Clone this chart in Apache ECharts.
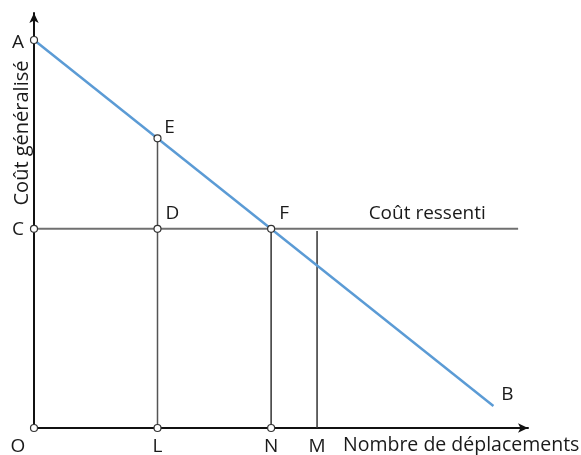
<!DOCTYPE html>
<html>
<head>
<meta charset="utf-8">
<script src="https://cdn.jsdelivr.net/npm/echarts@6/dist/echarts.min.js"></script>
<style>
  html, body { margin: 0; padding: 0; background: #fff; }
  #chart { width: 581px; height: 455px; }
</style>
</head>
<body>
<div id="chart"></div>
<script>
// points of the diagram (arbitrary units, axes 0..100)
const pointNames = ['A', 'C', 'E', 'D', 'F', 'O', 'L', 'N'];
const pointX = [0, 0, 25, 25, 48, 0, 25, 48];
const pointY = [93.5, 48, 69.8, 48, 48, 0, 0, 0];
// plain labels without a marker
const textNames = ['M', 'B', 'Coût ressenti'];
const textX = [57.3, 93, 79.6];
const textY = [0, 5.3, 48];
// demand line from A to B
const demandLine = [[0, 93.5], [93, 5.3]];
// perceived cost line
const ressentiLine = [[0, 48], [98, 48]];
// verticals at L, N, M
const verticalL = [[25, 0], [25, 69.8]];
const verticalN = [[48, 0], [48, 48]];
const verticalM = [[57.3, 0], [57.3, 47.5]];

const FONT = '"Open Sans", sans-serif';

// label offsets, relative to the point
const labelOffsets = {
    A: [-16, 3], C: [-16, 1], O: [-16, 19], L: [0, 19], N: [0, 19],
    E: [12, -11], D: [15, -15], F: [13, -15],
    M: [0, 19], B: [14, -11], 'Coût ressenti': [0, -15]
};

const pointData = pointNames.map((n, i) => ({
    name: n,
    value: [pointX[i], pointY[i]],
    label: { offset: labelOffsets[n] }
}));
const textData = textNames.map((n, i) => ({
    name: n,
    value: [textX[i], textY[i]],
    label: { offset: labelOffsets[n] }
}));

const chart = echarts.init(document.getElementById('chart'));

const greyLine = (data, color, width) => ({
    type: 'line',
    data: data,
    symbol: 'none',
    silent: true,
    lineStyle: { color: color, width: width },
    clip: false,
    z: 3
});

const labelStyle = {
    show: true, position: 'inside', formatter: '{b}',
    color: '#1a1a1a', fontFamily: FONT, fontSize: 19,
    textBorderWidth: 0
};

const option = {
    animation: false,
    grid: { left: 34, right: 53, top: 13, bottom: 27 },
    xAxis: {
        type: 'value', min: 0, max: 100,
        axisLine: { show: true, symbol: ['none', 'arrow'], symbolSize: [7, 10], lineStyle: { color: '#111', width: 2 } },
        axisTick: { show: false }, axisLabel: { show: false }, splitLine: { show: false }
    },
    yAxis: {
        type: 'value', min: 0, max: 100,
        axisLine: { show: true, symbol: ['none', 'arrow'], symbolSize: [7, 10], lineStyle: { color: '#111', width: 2 } },
        axisTick: { show: false }, axisLabel: { show: false }, splitLine: { show: false }
    },
    series: [
        greyLine(ressentiLine, '#707070', 2),
        greyLine(verticalL, '#555', 1.5),
        greyLine(verticalN, '#333', 1.5),
        greyLine(verticalM, '#333', 1.5),
        {
            type: 'line',
            data: demandLine,
            symbol: 'none',
            lineStyle: { color: '#5b9bd5', width: 2.5 },
            clip: false,
            z: 4
        },
        {
            type: 'scatter',
            data: pointData,
            symbol: 'circle',
            symbolSize: 7,
            itemStyle: { color: '#fff', borderColor: '#333', borderWidth: 1.2, opacity: 1 },
            label: labelStyle,
            clip: false,
            z: 6
        },
        {
            type: 'scatter',
            symbol: 'circle',
            symbolSize: 0,
            data: textData,
            itemStyle: { color: '#fff', opacity: 1 },
            label: labelStyle,
            clip: false,
            z: 6
        }
    ],
    graphic: [
        {
            type: 'text',
            left: 343, top: 435,
            style: { text: 'Nombre de déplacements', fill: '#1a1a1a', font: '19.5px ' + FONT }
        },
        {
            type: 'text',
            x: 22, y: 133,
            rotation: Math.PI / 2,
            style: {
                text: 'Coût généralisé', fill: '#1a1a1a', font: '20px ' + FONT,
                align: 'center', verticalAlign: 'middle'
            }
        }
    ]
};

chart.setOption(option);
window.addEventListener('resize', () => { chart.resize(); });
</script>
</body>
</html>
